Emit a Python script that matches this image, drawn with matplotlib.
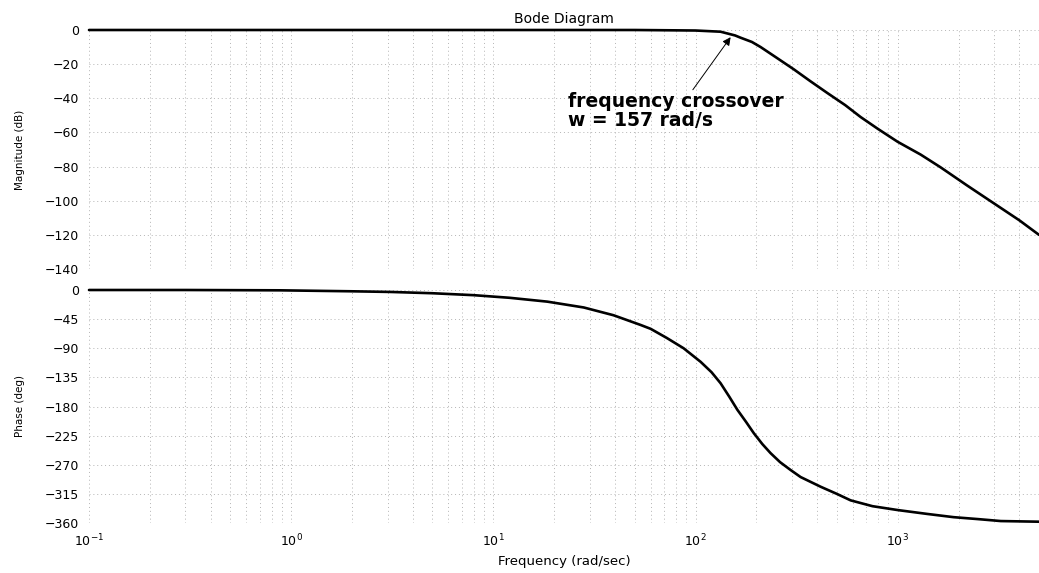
import numpy as np
import matplotlib
matplotlib.use("Agg")
import matplotlib.pyplot as plt
from matplotlib.ticker import LogLocator, FixedLocator, NullFormatter

# Magnitude response (rad/s, dB)
mag_freq = [0.1, 1, 10, 50, 100, 133, 149, 157, 167, 190, 210, 250, 306, 370,
            450, 550, 656, 800, 1000, 1300, 1633, 2200, 2988, 4000, 5000]
mag_db = [0, 0, 0, 0, -0.3, -1.0, -2.5, -3.2, -4.5, -7.0, -10.0, -16.0, -23.0, -30.0,
          -37.0, -44.0, -51.0, -58.0, -65.5, -73.0, -80.5, -91.0, -101.5, -111.5, -120.0]

# Phase response (rad/s, deg)
ph_freq = [0.1, 0.3, 0.88, 2.0, 3.1, 5.0, 8.0, 12.0, 18.5, 28.0, 39.3, 53.5, 60.0,
           72.0, 87.3, 106, 120, 133, 147, 161, 178, 194, 214, 235, 262, 295, 331,
           416, 500, 585, 750, 1000, 1400, 1892, 2500, 3236, 5000]
ph_deg = [0, 0, -0.5, -2, -3, -5, -8, -12, -18, -27, -39, -54, -60,
          -74, -90, -111, -127, -144, -165, -185, -204, -221, -238, -252, -266, -278, -289,
          -304, -315, -325, -334, -340, -346, -351, -354, -357, -358]

mag_ticks = [0, -20, -40, -60, -80, -100, -120, -140]
ph_ticks = [0, -45, -90, -135, -180, -225, -270, -315, -360]
crossover_w = 157

plt.rcParams['font.family'] = ['DejaVu Sans']

W, H = 1039, 573
fig = plt.figure(figsize=(W / 100, H / 100), dpi=100)

left = 89 / W
width = 1 - left
ax_mag = fig.add_axes([left, 1 - 269 / H, width, (269 - 30) / H])
ax_ph = fig.add_axes([left, 1 - 523 / H, width, (523 - 290) / H], sharex=ax_mag)

grid_kw = dict(color='#b4b4b4', linestyle=(0, (1, 3)), linewidth=0.7)

for ax in (ax_mag, ax_ph):
    ax.set_xscale('log')
    ax.set_xlim(0.1, 5000)
    for s in ax.spines.values():
        s.set_visible(False)
    ax.xaxis.set_major_locator(LogLocator(base=10, numticks=10))
    ax.xaxis.set_minor_locator(LogLocator(base=10, subs=np.arange(2, 10), numticks=100))
    ax.xaxis.set_minor_formatter(NullFormatter())
    ax.grid(True, which='major', axis='both', **grid_kw)
    ax.grid(True, which='minor', axis='x', **grid_kw)
    ax.tick_params(which='both', length=0, labelsize=9, pad=7)

ax_mag.plot(mag_freq, mag_db, color='black', linewidth=1.9, clip_on=False,
            solid_capstyle='round')
ax_mag.set_ylim(-140, 0)
ax_mag.yaxis.set_major_locator(FixedLocator(mag_ticks))
ax_mag.tick_params(axis='x', labelbottom=False)
ax_mag.set_ylabel('Magnitude (dB)', fontsize=7.5, labelpad=14)
ax_mag.set_title('Bode Diagram', fontsize=10, pad=5)

ax_ph.plot(ph_freq, ph_deg, color='black', linewidth=1.9, clip_on=False,
           solid_capstyle='round')
ax_ph.set_ylim(-360, 0)
ax_ph.yaxis.set_major_locator(FixedLocator(ph_ticks))
ax_ph.set_ylabel('Phase (deg)', fontsize=7.5, labelpad=14)
ax_ph.set_xlabel('Frequency (rad/sec)', fontsize=9.5, labelpad=4)

tip_db = float(np.interp(np.log10(crossover_w), np.log10(mag_freq), mag_db))
ax_mag.annotate('', xy=(crossover_w * 0.95, tip_db - 1.0), xytext=(97, -35),
                arrowprops=dict(arrowstyle='-|>', color='black', lw=0.7,
                                mutation_scale=12, shrinkA=0, shrinkB=0))
ax_mag.text(23.5, -47.5, f'frequency crossover\nw = {crossover_w} rad/s',
            fontsize=13.5, fontweight='bold', ha='left', va='center',
            linespacing=0.95)

fig.savefig('out.png', dpi=100)
